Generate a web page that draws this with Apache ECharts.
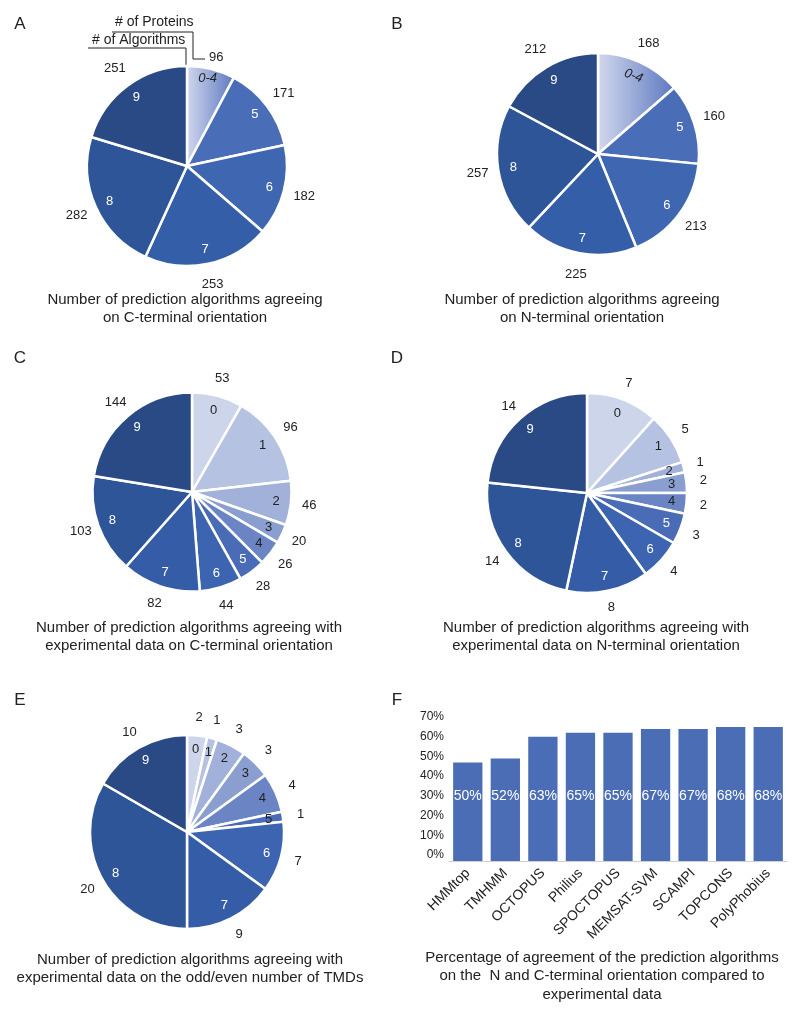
<!DOCTYPE html>
<html><head><meta charset="utf-8">
<script src="https://cdn.jsdelivr.net/npm/echarts@6/dist/echarts.min.js"></script>
<style>html,body{margin:0;padding:0;background:#fff}#c{width:800px;height:1018px}</style>
</head><body><div id="c"></div>
<script>
// ---------- data ----------
const catsAB = ['0-4', '5', '6', '7', '8', '9'];
const valsA = [96, 171, 182, 253, 282, 251];
const valsB = [168, 160, 213, 225, 257, 212];
const cats10 = ['0', '1', '2', '3', '4', '5', '6', '7', '8', '9'];
const valsC = [53, 96, 46, 20, 26, 28, 44, 82, 103, 144];
const valsD = [7, 5, 1, 2, 2, 3, 4, 8, 14, 14];
const valsE = [2, 1, 3, 3, 4, 1, 7, 9, 20, 10];
const algos = ['HMMtop', 'TMHMM', 'OCTOPUS', 'Philius', 'SPOCTOPUS', 'MEMSAT-SVM', 'SCAMPI', 'TOPCONS', 'PolyPhobius'];
const agreement = [50, 52, 63, 65, 65, 67, 67, 68, 68];
const yTickLabels = ['0%', '10%', '20%', '30%', '40%', '50%', '60%', '70%'];

const captionA = ['Number of prediction algorithms agreeing', 'on C-terminal orientation'];
const captionB = ['Number of prediction algorithms agreeing', 'on N-terminal orientation'];
const captionC = ['Number of prediction algorithms agreeing with', 'experimental data on C-terminal orientation'];
const captionD = ['Number of prediction algorithms agreeing with', 'experimental data on N-terminal orientation'];
const captionE = ['Number of prediction algorithms agreeing with', 'experimental data on the odd/even number of TMDs'];
const captionF = ['Percentage of agreement of the prediction algorithms', 'on the  N and C-terminal orientation compared to', 'experimental data'];

// ---------- styles ----------
const FONT = '"Liberation Sans", Arial, Helvetica, sans-serif';
const TXT = '#222';
const grad = {type: 'linear', x: 0, y: 0, x2: 1, y2: 0, colorStops: [{offset: 0, color: '#d3d9ee'}, {offset: 1, color: '#5b77bf'}]};
const colorsAB = [grad, '#4a6db7', '#3e66b1', '#355ea8', '#2e5597', '#2a4a85'];
const colors10 = ['#cdd5ea', '#b6c2e2', '#a1b1da', '#8b9ed0', '#6a84c4', '#4a6cb6', '#3d64b0', '#355da7', '#2e5597', '#2a4a85'];

function pieSeries(center, r, labelR, names, vals, colors, darkCount, opts) {
  opts = opts || {};
  const base = {type: 'pie', center: center, startAngle: 90, clockwise: true, avoidLabelOverlap: false, silent: true,
    labelLine: {show: false}, emphasis: {disabled: true}, animation: false};
  const visible = Object.assign({}, base, {
    radius: [0, r], label: {show: false},
    itemStyle: {borderColor: '#fff', borderWidth: 2.5},
    data: vals.map((v, i) => ({name: names[i], value: v, itemStyle: {color: colors[i]}}))
  });
  const inner = Object.assign({}, base, {
    radius: [r * 0.70, r * 0.94],
    itemStyle: {color: 'rgba(0,0,0,0)', borderWidth: 0},
    label: {show: true, position: 'inside', fontSize: 13, fontFamily: FONT,
      formatter: p => (opts.shiftFirstInner && p.dataIndex === 0) ? p.name + '\n' : p.name},
    data: vals.map((v, i) => {
      const lab = {color: i < darkCount ? TXT : '#fff'};
      if (opts.italicFirst && i === 0) lab.fontStyle = 'italic';
      if (opts.rotFirst && i === 0) lab.rotate = opts.rotFirst;
      if (opts.shiftFirstInner && i === 0) lab.lineHeight = 10;
      return {name: names[i], value: v, label: lab};
    })
  });
  const outer = Object.assign({}, base, {
    radius: [labelR - 13, labelR + 7],
    itemStyle: {color: 'rgba(0,0,0,0)', borderWidth: 0},
    label: {show: true, position: 'inside', fontSize: 13, color: TXT, fontFamily: FONT,
      formatter: p => (opts.shiftFirstOuter && p.dataIndex === 0) ? '\n' + p.value : String(p.value)},
    data: vals.map((v, i) => {
      const d = {name: names[i], value: v};
      if (opts.shiftFirstOuter && i === 0) d.label = {lineHeight: 18};
      return d;
    })
  });
  return [visible, inner, outer];
}

const series = [].concat(
  pieSeries([187, 166], 100, 121, catsAB, valsA, colorsAB, 1, {italicFirst: true, shiftFirstOuter: true, shiftFirstInner: true}),
  pieSeries([598, 154], 101, 122, catsAB, valsB, colorsAB, 1, {italicFirst: true, rotFirst: -20}),
  pieSeries([192, 492], 99.5, 118, cats10, valsC, colors10, 5),
  pieSeries([587, 493], 100, 117, cats10, valsD, colors10, 5),
  pieSeries([187, 832], 97, 115, cats10, valsE, colors10, 6)
);

series.push({
  type: 'bar', xAxisIndex: 0, yAxisIndex: 0, data: agreement, barCategoryGap: '22%',
  itemStyle: {color: '#4b6db6'}, silent: true, animation: false,
  label: {show: true, position: 'insideBottom', distance: 58, color: '#fff', fontSize: 14, fontFamily: FONT,
    formatter: p => agreement[p.dataIndex] + '%'}
});

function textEl(str, x, y, size, align, extra) {
  return {type: 'text', x: x, y: y, silent: true,
    style: Object.assign({text: str, font: size + 'px ' + FONT, fill: TXT, align: align || 'center', verticalAlign: 'middle'}, extra || {})};
}
const graphics = [];
[['A', 20, 24], ['B', 397, 24], ['C', 20, 358], ['D', 397, 358], ['E', 20, 700], ['F', 397, 700]].forEach(l => graphics.push(textEl(l[0], l[1], l[2], 17)));
function caption(lines, cx, y0, dy) {
  lines.forEach((s, i) => graphics.push(textEl(s, cx, y0 + i * dy, 15)));
}
caption(captionA, 185, 300, 18);
caption(captionB, 582, 300, 18);
caption(captionC, 189, 628, 18);
caption(captionD, 596, 628, 18);
caption(captionE, 190, 960, 18);
caption(captionF, 602, 958, 18.3);
// legend callouts of panel A
graphics.push(textEl('# of Proteins', 115, 22, 14, 'left'));
graphics.push(textEl('# of Algorithms', 92, 40, 14, 'left'));
graphics.push({type: 'polyline', silent: true, shape: {points: [[112, 32], [193, 32], [193, 59], [205, 59]]}, style: {stroke: '#222', lineWidth: 1, fill: null}});
graphics.push({type: 'polyline', silent: true, shape: {points: [[88, 48], [186, 48], [186, 74], [199, 74]]}, style: {stroke: '#222', lineWidth: 1, fill: null}});

const option = {
  backgroundColor: '#fff',
  animation: false,
  grid: [{left: 449, right: 13, top: 723, bottom: 157, containLabel: false}],
  xAxis: [{type: 'category', data: algos, gridIndex: 0,
    axisLine: {lineStyle: {color: '#d0d0d0', width: 1}}, axisTick: {show: false},
    axisLabel: {rotate: 45, interval: 0, fontSize: 14, color: TXT, fontFamily: FONT, margin: 10}}],
  yAxis: [{type: 'value', gridIndex: 0, min: 0, max: 70, interval: 10,
    axisLine: {show: false}, axisTick: {show: false}, splitLine: {show: false},
    axisLabel: {fontSize: 12, color: TXT, fontFamily: FONT, margin: 5, verticalAlign: 'bottom',
      formatter: v => yTickLabels[Math.round(v / 10)]}}],
  series: series,
  graphic: graphics
};
const chart = echarts.init(document.getElementById('c'), null, {renderer: 'canvas'});
chart.setOption(option);
</script>
</body></html>
